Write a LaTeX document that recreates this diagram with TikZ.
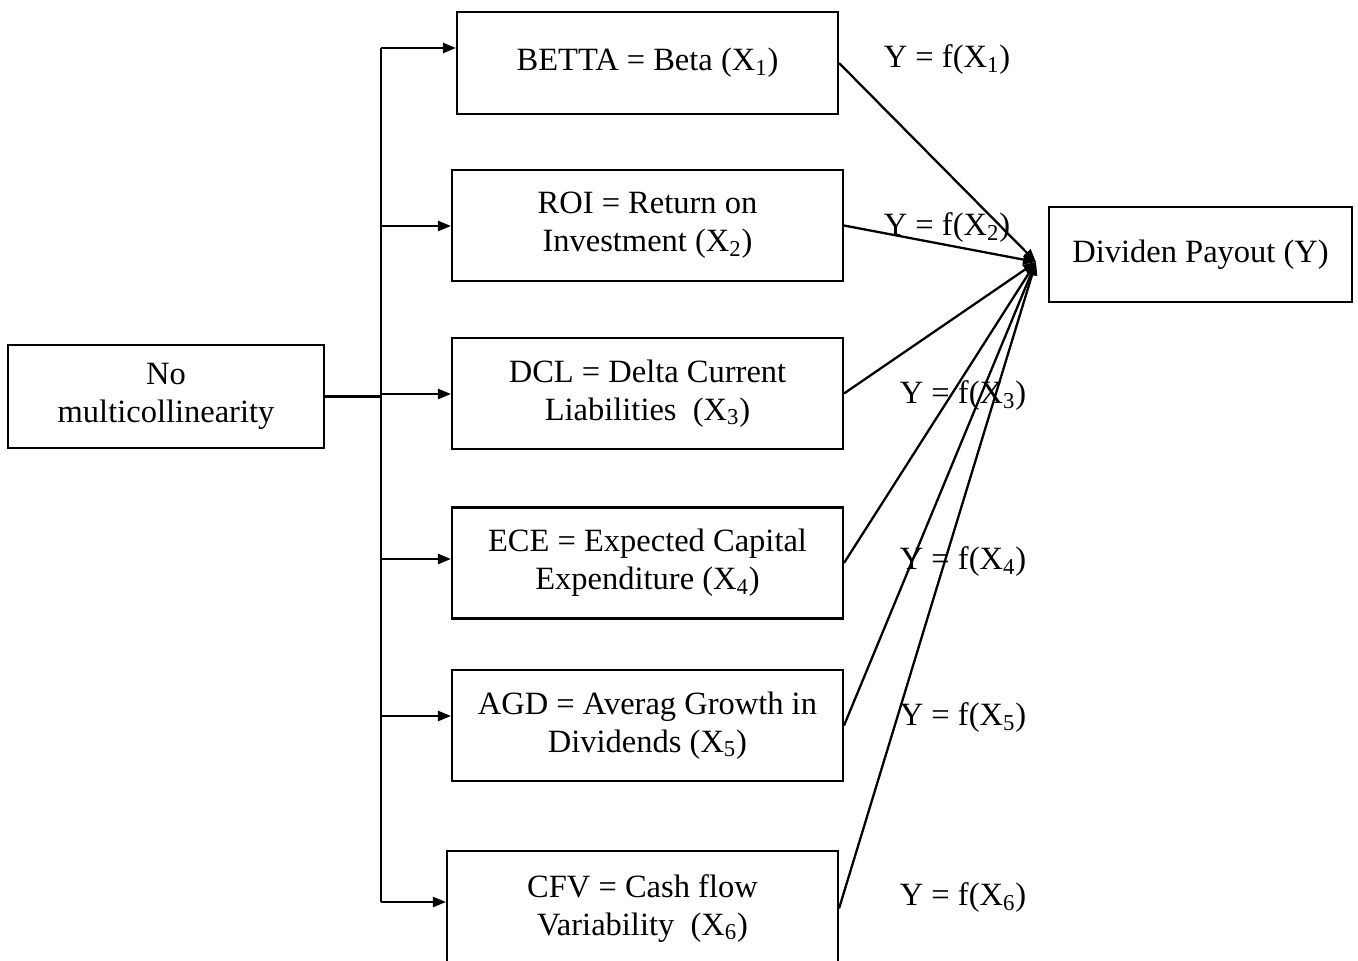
\documentclass[tikz,border=0pt]{standalone}
\usepackage{fontspec}
\setmainfont{Liberation Serif}
\usetikzlibrary{arrows.meta}
\tikzset{
	box/.style={draw, line width=1.2pt, align=center, inner sep=2pt},
	flow/.style={line width=1.3pt, -{Triangle[length=0.26cm, width=0.2cm]}},
	eqn/.style={inner sep=0pt}
}
\newcommand{\Xs}[1]{X\textsubscript{#1}}
\begin{document}
\begin{tikzpicture}[x=0.02cm, y=-0.02cm, font=\fontsize{18.5}{21.5}\selectfont]
	\useasboundingbox (0,0) rectangle (1358,960);
	\node[box, minimum width=6.32cm, minimum height=2.06cm] (nomc) at (166,396.5) {No\\ multicollinearity};
	\node[box, minimum width=7.62cm, minimum height=2.04cm] (b1) at (647.5,63) {BETTA = Beta (\Xs{1})};
	\node[box, minimum width=7.82cm, minimum height=2.22cm] (b2) at (647.5,225.5) {ROI = Return on\\ Investment (\Xs{2})};
	\node[box, minimum width=7.82cm, minimum height=2.22cm] (b3) at (647.5,393.5) {DCL = Delta Current\\ Liabilities~ (\Xs{3})};
	\node[box, minimum width=7.82cm, minimum height=2.22cm] (b4) at (647.5,563) {ECE = Expected Capital\\ Expenditure (\Xs{4})};
	\node[box, minimum width=7.82cm, minimum height=2.22cm] (b5) at (647.5,725.5) {AGD = Averag Growth in\\ Dividends (\Xs{5})};
	\node[box, minimum width=7.82cm, minimum height=2.3cm] (b6) at (642.5,908.5) {CFV = Cash flow\\ Variability~ (\Xs{6})};
	\node[box, minimum width=6.06cm, minimum height=1.9cm] (pay) at (1200.5,254.5) {Dividen Payout (Y)};
	% spine
	\coordinate (top) at (381,48);
	\coordinate (bot) at (381,902);
	\draw[line width=1.3pt] (top) -- (bot);
	\draw[line width=1.3pt] (nomc.east) -- (nomc.east -| top);
	\foreach \n/\y in {1/48,2/226,3/394,4/559,5/716,6/902} {
		\coordinate (s\n) at (381,\y);
		\draw[flow] (s\n) -- (s\n -| b\n.west);
	}
	\coordinate (tip) at (1036,262);
	\foreach \n in {1,...,6}
		\draw[flow] (b\n.east) -- (tip);
	\node[eqn] (y1) at (947,60) {Y = f(\Xs{1})};
	\node[eqn] (y2) at (947,228) {Y = f(\Xs{2})};
	\node[eqn] (y3) at (963,396) {Y = f(\Xs{3})};
	\node[eqn] (y4) at (963,562) {Y = f(\Xs{4})};
	\node[eqn] (y5) at (963,718) {Y = f(\Xs{5})};
	\node[eqn] (y6) at (963,898) {Y = f(\Xs{6})};
\end{tikzpicture}
\end{document}
